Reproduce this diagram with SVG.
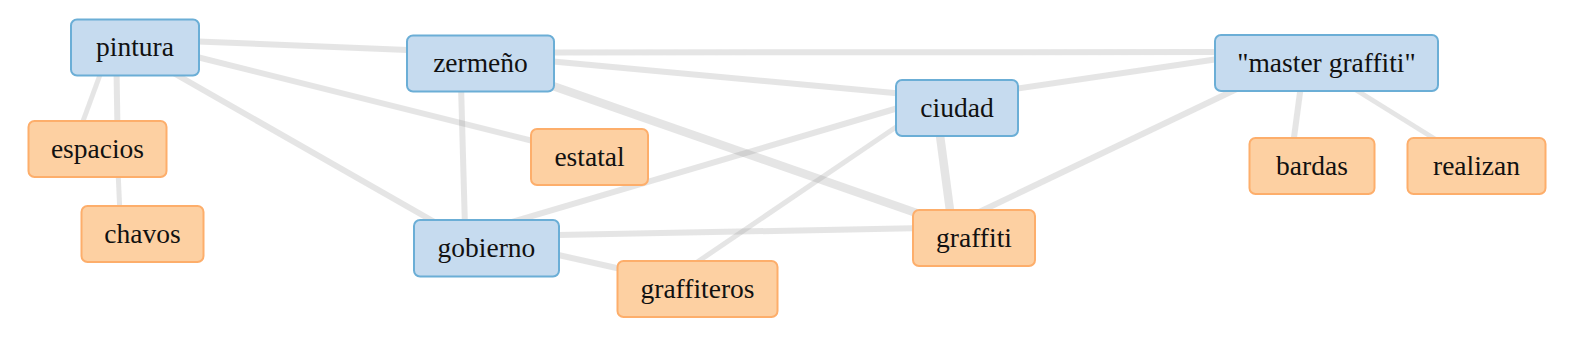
<svg xmlns="http://www.w3.org/2000/svg" width="1580" height="338" viewBox="0 0 1580 338">
<style>
.e{stroke:#999;stroke-opacity:0.25;stroke-width:6;fill:none}
.w5{stroke-width:5}
.w8{stroke-width:8.5}
.b rect{fill:#c6dbef;stroke:#6baed6;stroke-width:2}
.o rect{fill:#fdd0a2;stroke:#fdae6b;stroke-width:2}
text{font-family:"Liberation Serif","Times New Roman",serif;font-size:27.5px;fill:#111;text-anchor:middle}
</style>
<rect width="1580" height="338" fill="#fff"/>
<g id="connectors">
<line class="e" x1="185" y1="41" x2="420" y2="50.5"/>
<line class="e" x1="185" y1="54" x2="545" y2="144"/>
<line class="e" x1="170" y1="71" x2="445" y2="228"/>
<line class="e w5" x1="104" y1="64" x2="79" y2="132"/>
<line class="e" x1="116.5" y1="70" x2="117.5" y2="130"/>
<line class="e w5" x1="118" y1="170" x2="120" y2="215"/>
<line class="e" x1="461" y1="85" x2="465" y2="228"/>
<line class="e" x1="545" y1="52.5" x2="1225" y2="52"/>
<line class="e" x1="545" y1="60.8" x2="905" y2="94"/>
<line class="e w8" x1="545" y1="83.2" x2="925" y2="216"/>
<line class="e" x1="505" y1="224" x2="905" y2="106"/>
<line class="e w5" x1="905" y1="121" x2="690" y2="267"/>
<line class="e" x1="545" y1="235.3" x2="925" y2="228"/>
<line class="e" x1="545" y1="252" x2="630" y2="271"/>
<line class="e w8" x1="939" y1="128" x2="951" y2="218"/>
<line class="e" x1="975" y1="214" x2="1243" y2="86"/>
<line class="e" x1="1008" y1="90" x2="1225" y2="58"/>
<line class="e" x1="1301" y1="85" x2="1293" y2="145"/>
<line class="e w5" x1="1348" y1="85" x2="1443" y2="144"/>
</g>
<g id="pintura" class="b"><rect x="71" y="19.5" width="128" height="56" rx="6"/><text x="135" y="55.5">pintura</text></g>
<g id="espacios" class="o"><rect x="28.5" y="121" width="138" height="56" rx="6"/><text x="97.5" y="157.5">espacios</text></g>
<g id="chavos" class="o"><rect x="81.5" y="206" width="122" height="56" rx="6"/><text x="142.5" y="242.5">chavos</text></g>
<g id="zermeno" class="b"><rect x="407" y="35.5" width="147" height="56" rx="6"/><text x="480.5" y="71.5">zermeño</text></g>
<g id="estatal" class="o"><rect x="531" y="129" width="117" height="56" rx="6"/><text x="589.5" y="165.5">estatal</text></g>
<g id="gobierno" class="b"><rect x="414" y="220" width="145" height="56.5" rx="6"/><text x="486.5" y="256.5">gobierno</text></g>
<g id="graffiteros" class="o"><rect x="617.5" y="261" width="160" height="56" rx="6"/><text x="697.5" y="297.5">graffiteros</text></g>
<g id="ciudad" class="b"><rect x="896" y="80" width="122" height="56" rx="6"/><text x="957" y="116.5">ciudad</text></g>
<g id="graffiti" class="o"><rect x="913" y="210" width="122" height="56" rx="6"/><text x="974" y="246.5">graffiti</text></g>
<g id="master_graffiti" class="b"><rect x="1215" y="35" width="223" height="56" rx="6"/><text x="1326.5" y="71.5">"master graffiti"</text></g>
<g id="bardas" class="o"><rect x="1249.5" y="138" width="125" height="56" rx="6"/><text x="1312" y="174.5">bardas</text></g>
<g id="realizan" class="o"><rect x="1407.5" y="138" width="138" height="56" rx="6"/><text x="1476.5" y="174.5">realizan</text></g>
</svg>
